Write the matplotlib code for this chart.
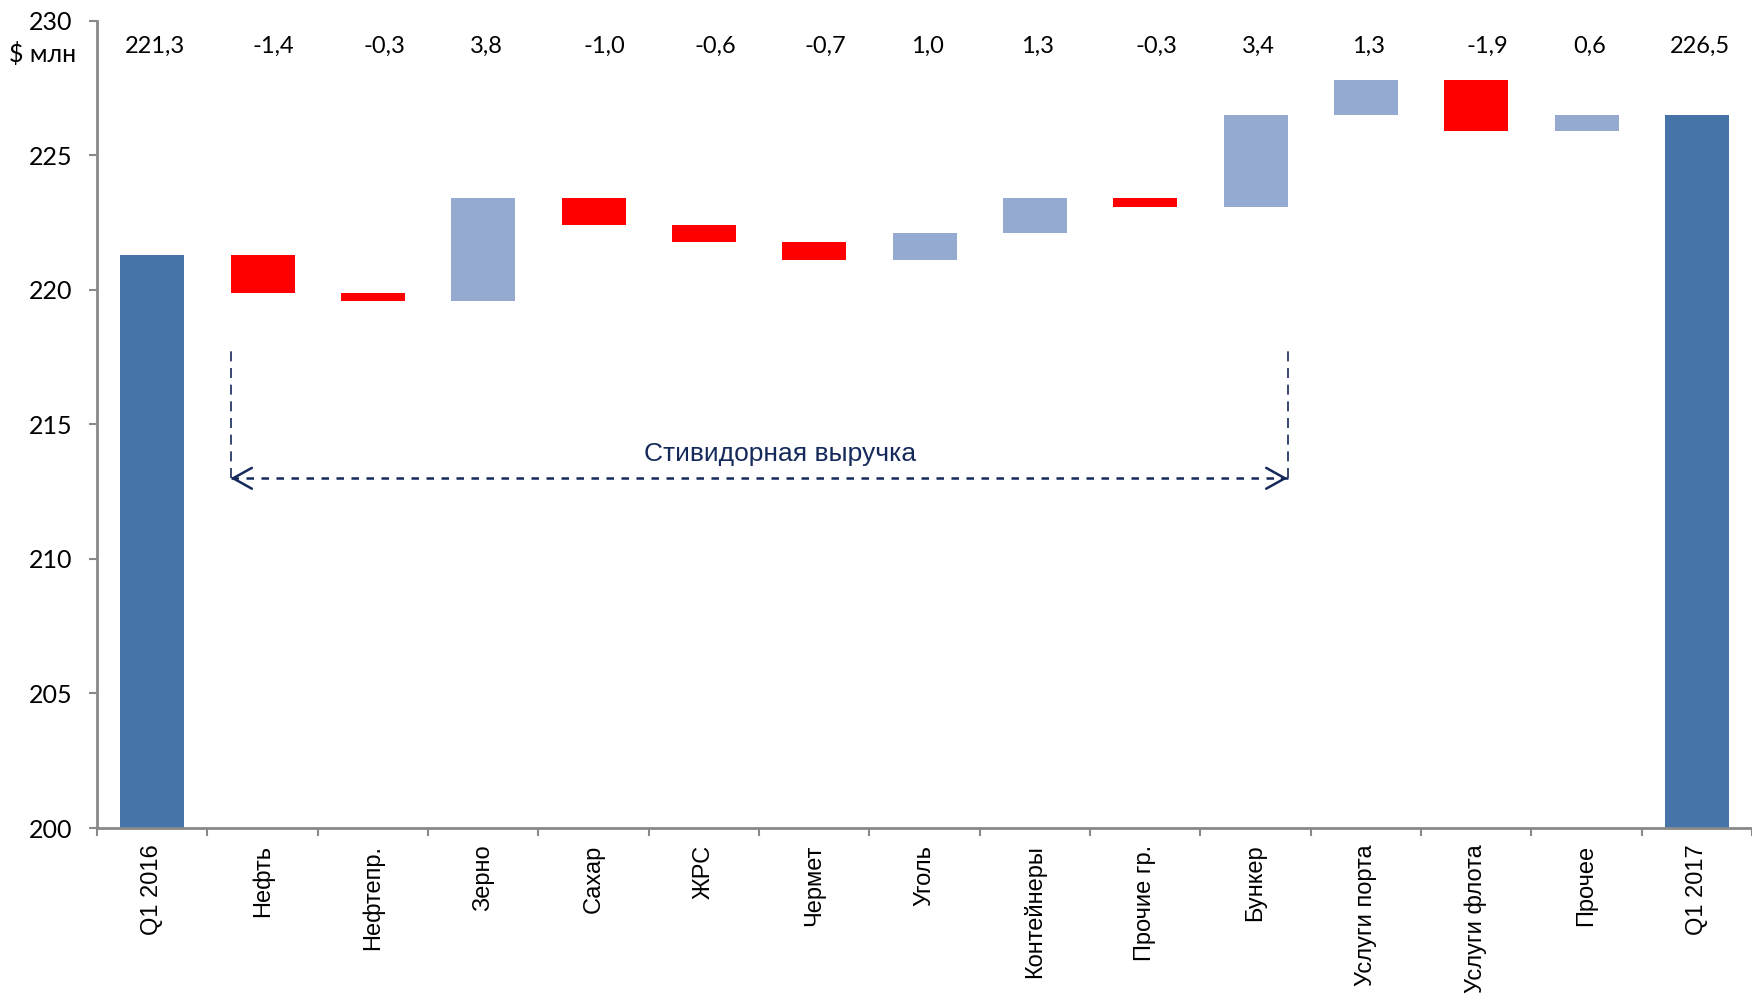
import matplotlib
matplotlib.use("Agg")
from matplotlib import pyplot as plt
from matplotlib.ticker import FixedLocator

categories = ["Q1 2016", "Нефть", "Нефтепр.", "Зерно", "Сахар", "ЖРС", "Чермет", "Уголь",
              "Контейнеры", "Прочие гр.", "Бункер", "Услуги порта", "Услуги флота", "Прочее", "Q1 2017"]
start_total = 221.3
deltas = [-1.4, -0.3, 3.8, -1.0, -0.6, -0.7, 1.0, 1.3, -0.3, 3.4, 1.3, -1.9, 0.6]
end_total = 226.5
bracket_label = "Стивидорная выручка"

DARK = "#4674A8"
LIGHT = "#95AAD0"
RED = "#FF0000"
GRAY = "#898989"
NAVY = "#15295A"

fig = plt.figure(figsize=(17.52, 9.97), dpi=100)
ax = fig.add_axes([0.0554, 0.1695, 0.9446, 0.8095])

# waterfall
bottoms, heights, colors = [], [], []
bottoms.append(0)
heights.append(start_total)
colors.append(DARK)
level = start_total
for d in deltas:
    bottoms.append(level if d >= 0 else level + d)
    heights.append(abs(d))
    colors.append(LIGHT if d >= 0 else RED)
    level += d
bottoms.append(0)
heights.append(end_total)
colors.append(DARK)

x = list(range(len(categories)))
ax.bar(x, heights, bottom=bottoms, width=0.58, color=colors, zorder=2)

# value labels on top row (negatives sit a bit to the right, as in the original)
values = [start_total] + deltas + [end_total]
for i, v in enumerate(values):
    ax.annotate(f"{v:.1f}".replace(".", ","), xy=(i, 229.05),
                xytext=(8 if v < 0 else 2, 0), textcoords="offset points",
                ha="center", va="center", fontsize=17, family=["Lato", "DejaVu Sans"])

ax.set_ylim(200, 230)
ax.set_xlim(-0.5, len(categories) - 0.5)
ax.set_yticks(range(200, 231, 5))
ax.set_yticklabels([str(t) for t in range(200, 231, 5)], family=["Lato", "DejaVu Sans"], fontsize=18)

ax.set_xticks(x)
ax.set_xticklabels(categories, rotation=90, ha="center", va="top",
                   family=["Liberation Sans", "DejaVu Sans"], fontsize=17)
ax.xaxis.set_minor_locator(FixedLocator([i - 0.5 for i in range(len(categories) + 1)]))
ax.tick_params(axis="x", which="major", length=0, pad=12)
ax.tick_params(axis="x", which="minor", length=6, width=1.5, color=GRAY)
ax.tick_params(axis="y", length=6, width=1.5, color=GRAY, pad=12)

for s in ["top", "right"]:
    ax.spines[s].set_visible(False)
for s in ["left", "bottom"]:
    ax.spines[s].set_color(GRAY)
    ax.spines[s].set_linewidth(2)

fig.text(0.0434, 0.946, "$ млн", ha="right", va="center",
         fontsize=18, family=["Lato", "Noto Sans", "DejaVu Sans"])

# bracket annotation: dashed verticals, dashed span, solid open heads
xl, xr = 1 - 0.29, 10 + 0.29
ya, yt = 213.0, 217.8
ax.plot([xl, xl], [ya, yt], color=NAVY, lw=1.2, ls=(0, (6, 4)))
ax.plot([xr, xr], [ya, yt], color=NAVY, lw=1.2, ls=(0, (6, 4)))
ax.plot([xl, xr], [ya, ya], color=NAVY, lw=1.8, ls=(0, (3, 3)))
head = dict(arrowstyle="->,head_length=0.45,head_width=0.25", color=NAVY, lw=1.8,
            shrinkA=0, shrinkB=0, mutation_scale=30)
ax.annotate("", xy=(xl, ya), xytext=(xl + 0.05, ya), arrowprops=head)
ax.annotate("", xy=(xr, ya), xytext=(xr - 0.05, ya), arrowprops=head)
ax.text(5.69, 213.9, bracket_label, ha="center", va="center", color=NAVY,
        fontsize=19, family=["Liberation Sans", "DejaVu Sans"])

fig.savefig("out.png", dpi=100)
